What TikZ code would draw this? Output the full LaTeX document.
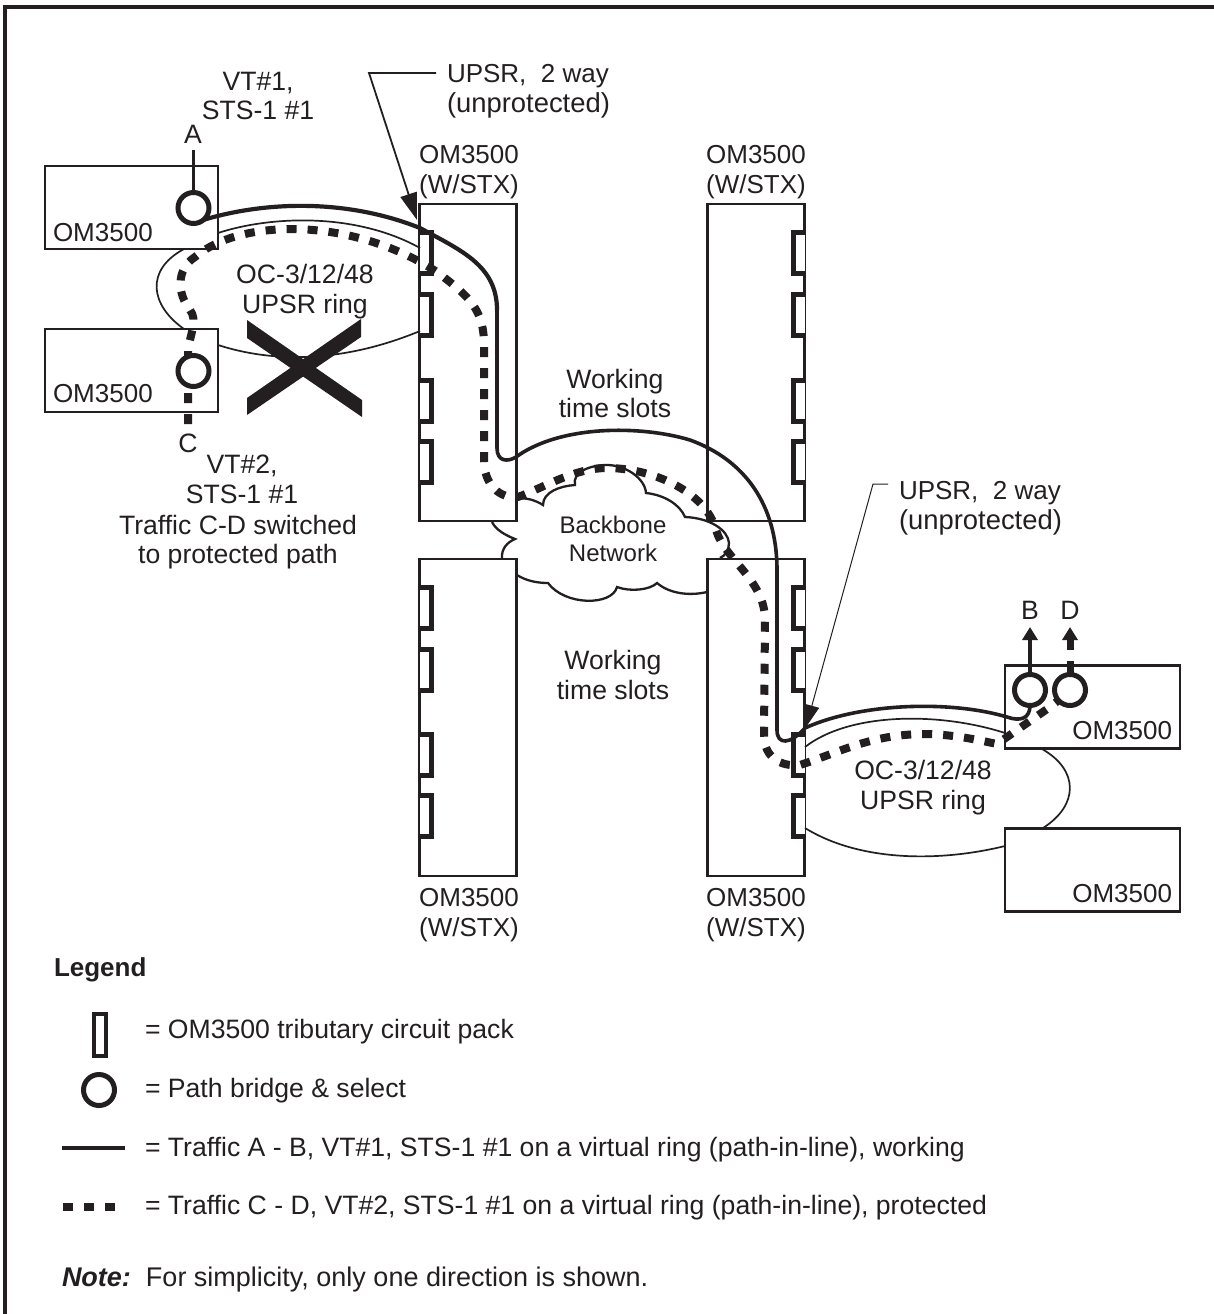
\documentclass[tikz,border=0pt]{standalone}
\usepackage{fontspec}
\setmainfont{Liberation Sans}
\usetikzlibrary{arrows.meta}

\definecolor{ink}{HTML}{231F20}
\tikzset{
  lab/.style={inner sep=0pt,outer sep=0pt,text=ink,align=center,font=\fontsize{26.6}{29.5}\selectfont},
  omlab/.style={lab,font=\fontsize{26}{29.5}\selectfont},
  cloudlab/.style={inner sep=0pt,outer sep=0pt,text=ink,align=center,font=\fontsize{24}{28}\selectfont},
  ombox/.style={draw=ink,line width=2.5pt,inner sep=0pt,outer sep=0pt,minimum height=83pt,minimum width=173pt},
  stxbox/.style={draw=ink,line width=2.5pt,inner sep=0pt,outer sep=0pt,minimum width=97pt},
  slotpack/.style={draw=ink,line width=5pt,fill=white},
  pbs/.style={draw=ink,line width=5pt,fill=white,circle,inner sep=0pt,outer sep=0pt,minimum size=31pt},
  ringline/.style={draw=ink,line width=1.7pt},
  workpath/.style={draw=ink,line width=4.2pt},
  protpath/.style={draw=ink,line width=8pt,dash pattern=on 10pt off 11pt},
  leader/.style={draw=ink,line width=1.8pt,-{Stealth[length=27pt,width=17pt,inset=0pt]}}
}

\begin{document}
\begin{tikzpicture}[x=1pt,y=-1pt]
\path[use as bounding box] (0,0) rectangle (1214,1314);
\draw[ink,line width=4pt] (5,1314) -- (5,7) -- (1214,7);

% boxes
\node[ombox] (omA) at (131.5,207.5) {};
\node[ombox] (omC) at (131.5,370.5) {};
\node[ombox,minimum width=175pt] (omB) at (1092.5,707) {};
\node[ombox,minimum width=175pt] (omD) at (1092.5,870) {};
\node[stxbox,minimum height=317pt] (stxTL) at (468,362.5) {};
\node[stxbox,minimum height=317pt] (stxTR) at (756,362.5) {};
\node[stxbox,minimum height=317pt] (stxBL) at (468,717.5) {};
\node[stxbox,minimum height=317pt] (stxBR) at (756,717.5) {};

% tributary packs
\foreach \y in {232,294,380,441}{
  \draw[slotpack] (420,\y) -- ++(11.5,0) -- ++(0,41) -- ++(-11.5,0);
  \draw[slotpack] (805,\y) -- ++(-11.5,0) -- ++(0,41) -- ++(11.5,0);
}
\foreach \y in {587,649,734,795}{
  \draw[slotpack] (420,\y) -- ++(11.5,0) -- ++(0,41) -- ++(-11.5,0);
  \draw[slotpack] (805,\y) -- ++(-11.5,0) -- ++(0,41) -- ++(11.5,0);
}

% rings
\draw[ringline] (218,233) .. controls (270,216) and (355,212) .. (420,248);
\draw[ringline] (184,249) .. controls (145,270) and (150,305) .. (184,329);
\draw[ringline] (218,345) .. controls (280,365) and (350,360) .. (420,331);
\draw[ringline] (805,747) .. controls (850,712) and (940,712) .. (1005,733);
\draw[ringline] (1042,749) .. controls (1079,770) and (1079,805) .. (1043,828);
\draw[ringline] (805,828) .. controls (860,862) and (940,862) .. (1005,846);

% cloud
\draw[ink,line width=2.3pt] (517,499) .. controls (525,497) and (535,500) .. (543,505)
  .. controls (543,492) and (560,486) .. (575,485)
  .. controls (572,472) and (590,465) .. (607,465)
  .. controls (625,465) and (645,478) .. (646,493)
  .. controls (665,495) and (680,505) .. (685,517)
  .. controls (710,518) and (728,530) .. (729,543)
  .. controls (729,550) and (725,556) .. (720,558);
\draw[ink,line width=2.3pt] (707,592) .. controls (690,596) and (670,594) .. (657,583)
  .. controls (650,590) and (630,592) .. (617,587)
  .. controls (612,606) and (565,606) .. (548,583)
  .. controls (535,583) and (525,580) .. (517,575);
\draw[ink,line width=2.3pt] (502,559) .. controls (501,548) and (508,542) .. (515,539)
  .. controls (505,535) and (496,530) .. (492,522);
\node[cloudlab] (cloudtxt) at (613,539) {Backbone\\Network};

% paths
\coordinate (endC) at (188,424);
\node[pbs] (pbsA) at (193.5,208) {};
\node[pbs] (pbsB) at (1030,690) {};
\draw[protpath] (endC) -- (188,350) .. controls (190,335) and (198,320) .. (190,310)
  .. controls (178,295) and (175,270) .. (195,257)
  .. controls (225,232) and (270,229) .. (294,229)
  .. controls (350,230) and (400,248) .. (437,272)
  .. controls (470,297) and (484,310) .. (484,345) -- (484,460)
  .. controls (484,485) and (500,499) .. (518,497)
  .. controls (545,487) and (575,468) .. (607,468)
  .. controls (650,468) and (705,490) .. (716,530)
  .. controls (725,560) and (765,580) .. (765,620) -- (764,735)
  .. controls (764,757) and (780,767) .. (800,765)
  .. controls (840,752) and (870,735) .. (922,734)
  .. controls (952,734) and (978,740) .. (997,744)
  -- (1050,707) -- (1064,696);
\node[pbs] (pbsC) at (193.5,371) {};
\node[pbs] (pbsD) at (1070,690) {};
\draw[workpath] (pbsA.-50) .. controls (270,200) and (350,200) .. (420,228)
  .. controls (460,250) and (497,265) .. (497,310);
\draw[workpath,line width=3.6pt] (497,308) -- (497,448) .. controls (497,462) and (508,462) .. (516,457)
  .. controls (560,425) and (640,425) .. (690,440)
  .. controls (745,460) and (777,505) .. (777,570) -- (777,730)
  .. controls (777,745) and (790,745) .. (805,728)
  .. controls (860,703) and (950,700) .. (1007,717)
  .. controls (1021,722) and (1030,718) .. (pbsB.south);
\draw[ink,line width=3.5pt] (193.5,150) -- (pbsA.north);
\draw[ink,line width=3.5pt,-{Stealth[length=13pt,width=15pt,inset=0pt]}] (pbsB.north) -- (1030,627);
\draw[ink,line width=7pt] (1070,674) -- (1070,661);
\draw[ink,line width=7pt,-{Stealth[length=13pt,width=15pt,inset=0pt]}] (1070,650) -- (1070,627);

% cross
\fill[ink] (247,320) -- (247,338) -- (362,417) -- (362,400) -- cycle;
\fill[ink] (361,319) -- (361,337) -- (247,415) -- (247,398) -- cycle;

% leaders
\coordinate (tipL) at (417,220);
\coordinate (tipR) at (806,727);
\draw[leader] (436,73) -- (369,73) -- (tipL);
\draw[leader,line width=1pt,-{Stealth[length=22pt,width=15pt,inset=0pt]}] (888,484) -- (873,484) -- (tipR);

% labels
\node[lab] (lblA) at (193,134) {A};
\node[lab] (lblB) at (1030,610) {B};
\node[lab] (lblC) at (188,443) {C};
\node[lab] (lblD) at (1070,610) {D};
\node[lab] (vtone) at (258,96) {VT\#1,\\STS-1 \#1};
\node[lab] (vttwo) at (242,479.5) {VT\#2,\\STS-1 \#1};
\node[lab] (cdnote) at (238,542) {Traffic C-D switched\\to protected path};
\node[lab,align=left,anchor=west,font=\fontsize{26}{30}\selectfont] (upsrL) at (447,91) {UPSR,\ \ 2 way\\{\fontsize{27.4}{30}\selectfont (unprotected)}};
\node[lab,align=left,anchor=west,font=\fontsize{26}{30}\selectfont] (upsrR) at (899,508) {UPSR,\ \ 2 way\\{\fontsize{27.4}{30}\selectfont (unprotected)}};
\node[lab] (ringL) at (305,291.5) {OC-3/12/48\\UPSR ring};
\node[lab] (ringR) at (923,787.5) {OC-3/12/48\\UPSR ring};
\node[lab] (slotsT) at (615,393.5) {Working\\time slots};
\node[lab] (slotsB) at (613,675) {Working\\time slots};
\node[omlab] (nameTL) at (469,172) {OM3500\\(W/STX)};
\node[omlab] (nameTR) at (756,172) {OM3500\\(W/STX)};
\node[omlab] (nameBL) at (469,915) {OM3500\\(W/STX)};
\node[omlab] (nameBR) at (756,915) {OM3500\\(W/STX)};
\node[omlab,anchor=west] (nameA) at (53,233) {OM3500};
\node[omlab,anchor=west] (nameC) at (53,394) {OM3500};
\node[omlab,anchor=east] (nameB) at (1172,731) {OM3500};
\node[omlab,anchor=east] (nameD) at (1172,894) {OM3500};

% legend
\node[lab,anchor=west,font=\fontsize{26}{29}\selectfont\bfseries] (legend) at (54,970) {Legend};
\draw[ink,line width=4.5pt] (94,1014) rectangle (106,1056);
\node[pbs] (keypbs) at (99,1090) {};
\coordinate (keyA) at (62,1148);
\coordinate (keyB) at (125,1148);
\draw[workpath] (keyA) -- (keyB);
\coordinate (keyC) at (63,1207);
\coordinate (keyD) at (117,1207);
\draw[protpath] (keyC) -- (keyD);
\node[lab,anchor=west] (keyone) at (145,1032) {= OM3500 tributary circuit pack};
\node[lab,anchor=west] (keytwo) at (145,1091) {= Path bridge \& select};
\node[lab,anchor=west] (keythree) at (145,1150) {= Traffic A - B, VT\#1, STS-1 \#1 on a virtual ring (path-in-line), working};
\node[lab,anchor=west] (keyfour) at (145,1208) {= Traffic C - D, VT\#2, STS-1 \#1 on a virtual ring (path-in-line), protected};
\node[lab,anchor=west,font=\fontsize{27}{29}\selectfont] (note) at (62,1280) {\textbf{\textit{Note:}}\ \ For simplicity, only one direction is shown.};
\end{tikzpicture}
\end{document}
